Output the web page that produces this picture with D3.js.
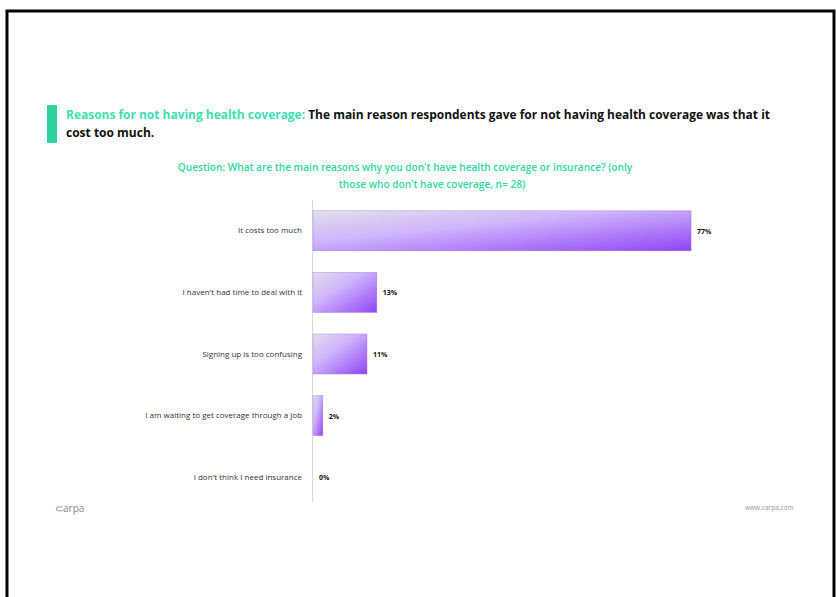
<!DOCTYPE html>
<html><head><meta charset="utf-8">
<script src="https://cdn.jsdelivr.net/npm/d3@7/dist/d3.min.js"></script>
<style>html,body{margin:0;padding:0;background:#fff;}svg{display:block;}</style>
</head><body>
<script>
const categories = ["It costs too much","I haven't had time to deal with it","Signing up is too confusing","I am waiting to get coverage through a job","I don't think I need insurance"];
const values = [77, 13, 11, 2, 0];
const valueLabels = ["77%","13%","11%","2%","0%"];
const titleGreen = "Reasons for not having health coverage:";
const titleLines = ["The main reason respondents gave for not having health coverage was that it","cost too much."];
const questionLines = ["Question: What are the main reasons why you don't have health coverage or insurance? (only","those who don't have coverage, n= 28)"];

const W = 836, H = 597;
const svg = d3.select("body").append("svg").attr("width", W).attr("height", H);
const font = "'Open Sans', 'Liberation Sans', sans-serif";

// frame
svg.append("path").attr("d", `M7,${H} L7,11 L834,11 L834,${H}`)
  .attr("fill","none").attr("stroke","#000").attr("stroke-width",3);

// gradient
const defs = svg.append("defs");
const g = defs.append("linearGradient").attr("id","barGrad")
  .attr("x1","0").attr("y1","0").attr("x2","1").attr("y2","1");
g.append("stop").attr("offset","0%").attr("stop-color","#e2dfea");
g.append("stop").attr("offset","40%").attr("stop-color","#cfb4fb");
g.append("stop").attr("offset","100%").attr("stop-color","#8f45f6");

// title
svg.append("rect").attr("x",47).attr("y",105).attr("width",10).attr("height",38).attr("fill","#2fd19a");
const t1 = svg.append("text").attr("x",66).attr("y",119).attr("font-family",font).attr("font-size",12).attr("font-weight","bold")
  .attr("textLength",704).attr("lengthAdjust","spacingAndGlyphs");
t1.append("tspan").attr("fill","#3ee0b0").text(titleGreen + " ");
t1.append("tspan").attr("fill","#111").text(titleLines[0]);
svg.append("text").attr("x",66).attr("y",137).attr("font-family",font).attr("font-size",12).attr("font-weight","bold").attr("fill","#111").text(titleLines[1]);

// question
const qCenters = [405, 432];
questionLines.forEach((l,i)=>{
  svg.append("text").attr("x",qCenters[i]).attr("y",171+i*17).attr("text-anchor","middle")
    .attr("font-family",font).attr("font-size",10.1).attr("font-weight","600").attr("fill","#2fd8a0").text(l);
});

// chart
const x0 = 313;
const x = d3.scaleLinear().domain([0,100]).range([x0, x0 + 491]);
const y = d3.scaleBand().domain(categories).range([200, 508]).paddingInner(0.35).paddingOuter(0.175);

svg.append("line").attr("x1",x0-0.5).attr("x2",x0-0.5).attr("y1",200).attr("y2",502).attr("stroke","#d8d8d8").attr("stroke-width",1);

svg.selectAll("rect.bar").data(categories).join("rect").attr("class","bar")
  .attr("x", x(0)).attr("y", d=>y(d))
  .attr("width", (d,i)=>x(values[i])-x(0)).attr("height", y.bandwidth())
  .attr("fill","url(#barGrad)").attr("stroke","#9a66f0").attr("stroke-width",0.6).attr("stroke-opacity",0.6);

svg.selectAll("text.val").data(categories).join("text").attr("class","val")
  .attr("x",(d,i)=>x(values[i])+6).attr("y",d=>y(d)+y.bandwidth()/2+3)
  .attr("font-family",font).attr("font-size",7).attr("font-weight","bold").attr("fill","#111")
  .text((d,i)=>valueLabels[i]);

svg.selectAll("text.cat").data(categories).join("text").attr("class","cat")
  .attr("x",302).attr("y",d=>y(d)+y.bandwidth()/2+2.5).attr("text-anchor","end")
  .attr("font-family",font).attr("font-size",8).attr("fill","#333").text(d=>d);

// logo & footer
svg.append("text").attr("x",55).attr("y",512).attr("font-family",font).attr("font-size",10).attr("fill","#888").text("⊂arpa");
svg.append("text").attr("x",745).attr("y",510).attr("font-family",font).attr("font-size",6.5).attr("fill","#999").text("www.carpa.com");
</script>
</body></html>
